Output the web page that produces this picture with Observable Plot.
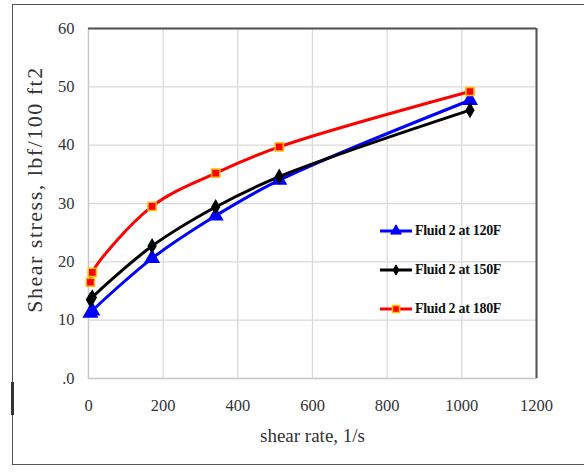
<!DOCTYPE html>
<html>
<head>
<meta charset="utf-8">
<script src="https://cdn.jsdelivr.net/npm/d3@7"></script>
<script src="https://cdn.jsdelivr.net/npm/@observablehq/plot@0.6"></script>
<style>
  html, body { margin: 0; padding: 0; background: #fff; }
  #wrap { position: relative; width: 584px; height: 476px; overflow: hidden; }
  #chart svg, #chart svg text, #chart svg g { font-family: "Liberation Serif", serif !important; }
  #outer { position: absolute; left: 12px; top: 4px; width: 600px; height: 461px; border: 1.5px solid #555; box-sizing: border-box; pointer-events: none; }
  #mark { position: absolute; left: 11px; top: 382px; width: 2.5px; height: 33px; background: #333; }
  #legend { position: absolute; left: 379px; top: 211px; font-family: "Liberation Serif", serif; font-weight: bold; font-size: 14px; color: #111; letter-spacing: -0.3px; }
  #legend .row { display: flex; align-items: center; height: 39px; }
  #legend svg { margin-right: 2px; }
</style>
</head>
<body>
<div id="wrap">
  <div id="chart"></div>
  <div id="outer"></div>
  <div id="mark"></div>
  <div id="legend"></div>
</div>
<script>
// Data
const shearRate = [5.11, 10.22, 170.3, 340.6, 510.9, 1021.8];
const fluid120 = [11.2, 11.6, 20.6, 27.9, 34.0, 47.7];
const fluid150 = [13.5, 13.9, 22.7, 29.4, 34.6, 46.0];
const fluid180 = [16.5, 18.2, 29.5, 35.2, 39.7, 49.2];
const seriesNames = ["Fluid 2 at 120F", "Fluid 2 at 150F", "Fluid 2 at 180F"];
const xTicks = [0, 200, 400, 600, 800, 1000, 1200];
const yTicks = [0, 10, 20, 30, 40, 50, 60];
const yTickLabels = [".0", "10", "20", "30", "40", "50", "60"];
const xTitle = "shear rate, 1/s";
const yTitle = "Shear stress, lbf/100 ft2";

const colors = ["#0000ff", "#000000", "#ff0000"];
const allSeries = [fluid120, fluid150, fluid180];

const rows = [];
allSeries.forEach((vals, i) => {
  vals.forEach((v, j) => rows.push({series: seriesNames[i], x: shearRate[j], y: v}));
});

const font = "Liberation Serif, serif";
const marks = [
  Plot.gridX(xTicks, {stroke: "#d9d9d9", strokeOpacity: 1, strokeWidth: 1.3}),
  Plot.gridY(yTicks, {stroke: "#d9d9d9", strokeOpacity: 1, strokeWidth: 1.3}),
  Plot.frame({stroke: "#c8c8c8", strokeWidth: 1.3}),
  Plot.ruleY([d3.max(yTicks)], {stroke: "#555", strokeWidth: 2}),
  Plot.ruleX([d3.max(xTicks)], {stroke: "#555", strokeWidth: 2}),
  Plot.axisX(xTicks, {tickSize: 0, tickPadding: 21, fontSize: 16.5, fill: "#333", label: null, fontFamily: font,
    tickFormat: d => String(d)}),
  Plot.axisY(yTicks, {tickSize: 0, tickPadding: 14, fontSize: 16.5, fill: "#333", label: null, fontFamily: font,
    tickFormat: d => yTickLabels[yTicks.indexOf(d)]}),
  Plot.text([yTitle], {frameAnchor: "left", textAnchor: "middle", dx: -54, dy: -14, rotate: -90, fontSize: 22, fill: "#333", fontFamily: font, letterSpacing: "1.5px"}),
  Plot.text([xTitle], {frameAnchor: "bottom", dy: 63, fontSize: 19, fill: "#333", fontFamily: font})
];
seriesNames.forEach((name, i) => {
  const data = rows.filter(d => d.series === name);
  marks.push(Plot.line(data, {x: "x", y: "y", stroke: colors[i], strokeWidth: 3, curve: "catmull-rom"}));
});
seriesNames.forEach((name, i) => {
  const data = rows.filter(d => d.series === name);
  if (i === 0) marks.push(Plot.dot(data, {x: "x", y: "y", symbol: "triangle", r: 5, fill: colors[0], stroke: colors[0]}));
  if (i === 1) marks.push(Plot.dot(data, {x: "x", y: "y", symbol: "diamond", r: 4, fill: "#000", stroke: "#000"}));
  if (i === 2) marks.push(Plot.dot(data, {x: "x", y: "y", symbol: "square", r: 4.6, fill: "#ff0000", stroke: "#ffc000", strokeWidth: 1.5}));
});

const chart = Plot.plot({
  width: 584,
  height: 476,
  marginLeft: 88,
  marginRight: 48,
  marginTop: 28,
  marginBottom: 98,
  style: {fontFamily: font, background: "white"},
  x: {domain: [0, 1200], axis: null, label: null},
  y: {domain: [0, 60], axis: null, label: null},
  marks
});
document.getElementById("chart").appendChild(chart);
// letter spacing for the y title
d3.select(chart).selectAll("text").filter(function() { return this.textContent === yTitle; }).style("letter-spacing", "1.5px");

// Legend
const legend = d3.select("#legend");
seriesNames.forEach((name, i) => {
  const row = legend.append("div").attr("class", "row");
  const svg = row.append("svg").attr("width", 34).attr("height", 14);
  svg.append("line").attr("x1", 1).attr("x2", 33).attr("y1", 7).attr("y2", 7).attr("stroke", colors[i]).attr("stroke-width", 3);
  const sym = d3.symbol().type(i === 0 ? d3.symbolTriangle : i === 1 ? d3.symbolDiamond : d3.symbolSquare).size(i === 1 ? 30 : 50);
  svg.append("path").attr("d", sym()).attr("transform", "translate(17,7)")
    .attr("fill", colors[i]).attr("stroke", i === 2 ? "#ffc000" : colors[i]).attr("stroke-width", i === 2 ? 1.5 : 1);
  row.append("span").text(name);
});
</script>
</body>
</html>
